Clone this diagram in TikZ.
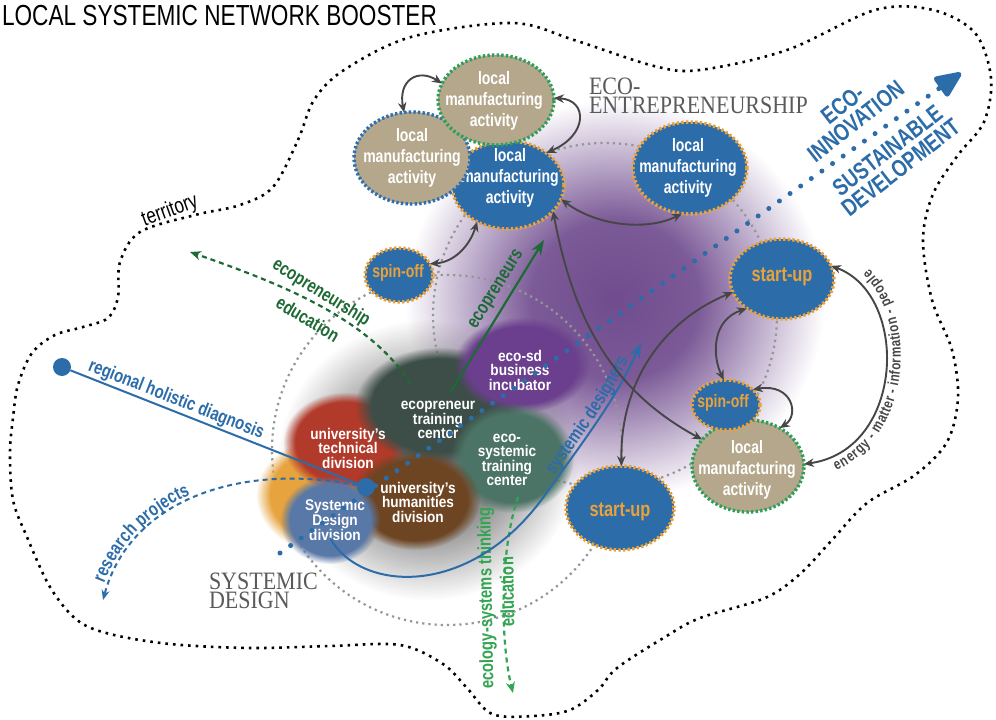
\documentclass[tikz,border=0pt]{standalone}
\usepackage{fontspec}
\usetikzlibrary{arrows.meta,shapes.geometric,fadings,decorations.text}
\newfontfamily\cond[FakeStretch=0.78]{Liberation Sans}
\newfontfamily\cloudf[FakeStretch=0.88]{Liberation Sans}
\newfontfamily\serifx[FakeStretch=0.88]{Liberation Serif}
\definecolor{nodeblue}{RGB}{43,108,169}
\definecolor{tanc}{RGB}{181,167,139}
\definecolor{dotorange}{RGB}{233,162,59}
\definecolor{dotgreen}{RGB}{46,159,91}
\definecolor{dotblue}{RGB}{47,111,176}
\definecolor{arrowgray}{RGB}{70,70,70}
\definecolor{txtblue}{RGB}{43,108,169}
\definecolor{dkgreen}{RGB}{30,106,53}
\definecolor{brgreen}{RGB}{51,164,82}
\definecolor{serifgray}{RGB}{90,90,90}
\definecolor{purplec}{RGB}{112,76,142}
\definecolor{grayc}{RGB}{80,80,80}
\definecolor{redb}{RGB}{178,58,42}
\definecolor{orangeb}{RGB}{231,163,62}
\definecolor{brownb}{RGB}{110,69,34}
\definecolor{sdb}{RGB}{88,120,168}
\definecolor{ecob}{RGB}{60,78,71}
\definecolor{tealb}{RGB}{76,116,102}
\definecolor{incb}{RGB}{107,63,141}
\definecolor{ringgray}{RGB}{150,150,150}
\colorlet{purplemid}{purplec!92!white}
\pgfdeclareradialshading{purplecloud}{\pgfpoint{0bp}{0bp}}{color(0bp)=(purplec); color(10bp)=(purplemid); color(25bp)=(white); color(50bp)=(white)}
\pgfdeclareradialshading{softfadeshade}{\pgfpoint{0bp}{0bp}}{color(0bp)=(pgftransparent!5); color(12bp)=(pgftransparent!35); color(25bp)=(pgftransparent!100); color(50bp)=(pgftransparent!100)}
\pgfdeclarefading{softfade}{\pgfuseshading{softfadeshade}}
\begin{document}
\begin{tikzpicture}[x=1pt,y=-1pt,
  every node/.style={inner sep=0pt, outer sep=0pt},
  dotb/.style={line width=3.4pt, dash pattern=on 2.4pt off 2.2pt},
  bnode/.style={ellipse, dotb},
  mfgtxt/.style={align=center, text=white, font=\cond\bfseries\fontsize{18}{21}\selectfont},
  sotxt/.style={text=dotorange, font=\cond\bfseries\fontsize{18}{18}\selectfont},
  sutxt/.style={text=dotorange, font=\cond\bfseries\fontsize{21}{21}\selectfont},
  cloudtxt/.style={align=center, text=white, font=\cloudf\bfseries\fontsize{15.5}{14.5}\selectfont},
  lbl/.style={font=\cond\bfseries\fontsize{19}{19}\selectfont},
  serifl/.style={anchor=north west, align=left, text=serifgray, font=\serifx\fontsize{25}{18.5}\selectfont},
  garrow/.style={draw=arrowgray, line width=1.9pt, {Stealth[length=10pt,width=8.5pt]}-{Stealth[length=10pt,width=8.5pt]}},
  blob/.style={path fading=circle with fuzzy edge 20 percent},
  ringc/.style={draw=ringgray, line width=2.2pt, dash pattern=on 2.2pt off 4pt},
  territ/.style={draw=black, line width=2.6pt, dash pattern=on 2.6pt off 5pt}
]
\useasboundingbox (0,0) rectangle (996,720);
\fill[white] (0,0) rectangle (996,720);

% big clouds
\shade[shading=purplecloud] (615,300) ellipse (210 and 200);
\fill[grayc, path fading=softfade] (428,460) ellipse (150 and 140);

% dotted gray rings
\draw[ringc] (605,315) circle (172);
\draw[ringc] (447,450) circle (175);

% coloured blobs
\fill[orangeb, blob] (328,495) ellipse (72 and 58);
\fill[redb, blob] (345,442) ellipse (62 and 50);
\fill[ecob, blob] (440,405) ellipse (85 and 58);
\fill[incb, blob] (522,365) ellipse (68 and 48);
\fill[tealb, blob] (512,458) ellipse (62 and 55);
\fill[brownb, blob] (415,500) ellipse (65 and 50);
\fill[sdb, blob] (330,520) ellipse (50 and 44);

% territory
\draw[territ] plot[smooth cycle, tension=0.55] coordinates {(273,187) (298,140) (314,100) (344,70) (411,37) (512,23) (574,40) (654,66) (700,70) (787,50) (875,10) (933,10) (975,33) (991,78) (984,122) (958,155) (933,194) (923,240) (932,300) (952,350) (958,398) (947,442) (915,475) (867,503) (832,540) (800,574) (765,598) (700,618) (665,637) (617,668) (598,690) (570,710) (533,716) (492,714) (467,688) (443,664) (400,645) (330,646) (250,648) (170,644) (110,634) (77,620) (50,587) (27,537) (13,500) (10,453) (13,418) (18,385) (32,353) (55,335) (83,327) (108,318) (118,297) (120,262) (140,232) (195,215) (240,205)};

% title and labels
\node[anchor=north west, font=\cond\fontsize{29}{29}\selectfont] (title) at (2,5) {LOCAL SYSTEMIC NETWORK BOOSTER};
\node[rotate=20, font=\cond\fontsize{22}{22}\selectfont] (terr) at (170,211) {territory};
\node[serifl] (ecoent) at (589,78) {ECO-\\ENTREPRENEURSHIP};
\node[serifl] (sysdes) at (209,573) {SYSTEMIC\\DESIGN};

% cloud texts
\node[cloudtxt] (incub) at (520,370) {eco-sd\\business\\incubator};
\node[cloudtxt] (ectc) at (438,420) {ecopreneur\\training\\center};
\node[cloudtxt] (estc) at (507,460) {eco-\\systemic\\training\\center};
\node[cloudtxt] (utd) at (348,448) {university’s\\technical\\division};
\node[cloudtxt] (uhd) at (418,502) {university’s\\humanities\\division};
\node[cloudtxt] (sdd) at (335,520) {Systemic\\Design\\division};

% blue dotted eco-innovation arrow
\coordinate (sdstart) at (280,553);
\coordinate (ecotip) at (961,73);
\draw[txtblue, line width=5pt, line cap=round, dash pattern=on 0pt off 13pt, -{Triangle[length=30pt 0,width=25pt 0,round]}] (sdstart) -- (ecotip);
\node[rotate=38, align=center, text=txtblue, font=\cond\bfseries\fontsize{24}{21.5}\selectfont] (ecoinno) at (849,113) {ECO-\\INNOVATION};
\node[rotate=38, align=center, text=txtblue, font=\cond\bfseries\fontsize{24}{21.5}\selectfont] (susdev) at (894,159) {SUSTAINABLE\\DEVELOPMENT};

% green arrows
\coordinate (epstart) at (450,393);
\coordinate (eptip) at (544,240);
\draw[dkgreen, line width=2.2pt, -{Stealth[length=15pt,width=11pt]}] (epstart) -- (eptip);
\node[lbl, text=dkgreen, rotate=58] (eplbl) at (497,290) {ecopreneurs};

\coordinate (eestart) at (410,383);
\coordinate (eetip) at (190,252);
\draw[dkgreen, line width=2.2pt, dash pattern=on 5pt off 4pt, -{Stealth[length=11pt,width=9pt]}] (eestart) .. controls (370,320) and (285,285) .. (eetip);
\node[lbl, text=dkgreen, rotate=-32] (eelbl1) at (321,293) {ecopreneurship};
\node[lbl, text=dkgreen, rotate=-31] (eelbl2) at (308,319) {education};

\coordinate (esstart) at (518,497);
\coordinate (estip) at (513,693);
\draw[brgreen, line width=2.2pt, dash pattern=on 5pt off 4pt, -{Stealth[length=11pt,width=9pt]}] (esstart) .. controls (500,550) and (500,640) .. (estip);
\node[lbl, text=brgreen, rotate=91] (eslbl1) at (487,598) {ecology-systems thinking};
\node[lbl, text=brgreen, rotate=91] (eslbl2) at (507,592) {education};

% blue arrows
\node[circle, fill=txtblue, minimum size=18pt] (diag) at (62,367) {};
\node[circle, fill=txtblue, minimum size=18pt] (hub) at (366,487) {};
\draw[txtblue, line width=2pt] (diag) -- (hub);
\node[lbl, text=txtblue, rotate=-21.5] (rhd) at (176,400) {regional holistic diagnosis};

\coordinate (rptip) at (103,600);
\draw[txtblue, line width=2pt, dash pattern=on 5pt off 4pt, -{Stealth[length=10pt,width=8pt]}] (hub) .. controls (240,462) and (130,500) .. (rptip);
\path[decorate, decoration={text along path, text={|\cond\bfseries\fontsize{19}{19}\selectfont|research projects}, text color=txtblue, text align={left, left indent=16pt}, raise=4pt}] (103,600) .. controls (130,500) and (240,462) .. (363,487);

\coordinate (sdbase) at (330,538);
\coordinate (sdtip) at (641,343);
\draw[txtblue, line width=2pt, -{Stealth[length=15pt,width=11pt]}] (sdbase) .. controls (360,592) and (470,600) .. (545,495) .. controls (590,432) and (615,400) .. (sdtip);
\path[decorate, decoration={text along path, text={|\cond\bfseries\fontsize{19}{19}\selectfont|systemic designers}, text color=txtblue, text align=center, raise=4pt}] (545,495) .. controls (590,432) and (615,400) .. (641,343);

% network nodes
\node[bnode, fill=nodeblue, draw=dotorange, minimum width=112pt, minimum height=88pt] (lma3) at (508,185) {};
\node[mfgtxt] (lma3t) at (510,178) {local\\manufacturing\\activity};
\node[bnode, fill=tanc, draw=dotblue, minimum width=116pt, minimum height=92pt] (lma2) at (412,158) {};
\node[mfgtxt] (lma2t) at (412,158) {local\\manufacturing\\activity};
\node[bnode, fill=tanc, draw=dotgreen, minimum width=116pt, minimum height=90pt] (lma1) at (496,100) {};
\node[mfgtxt] (lma1t) at (494,101) {local\\manufacturing\\activity};
\node[bnode, fill=nodeblue, draw=dotorange, minimum width=114pt, minimum height=92pt] (lma4) at (690,168) {};
\node[mfgtxt] (lma4t) at (688,168) {local\\manufacturing\\activity};
\node[bnode, fill=nodeblue, draw=dotorange, minimum width=68pt, minimum height=54pt] (so1) at (399,275) {};
\node[sotxt] (so1t) at (398,273) {spin-off};
\node[bnode, fill=nodeblue, draw=dotorange, minimum width=104pt, minimum height=80pt] (su1) at (782,279) {};
\node[sutxt] (su1t) at (782,277) {start-up};
\node[bnode, fill=nodeblue, draw=dotorange, minimum width=108pt, minimum height=84pt] (su2) at (620,508) {};
\node[sutxt] (su2t) at (620,512) {start-up};
\node[bnode, fill=tanc, draw=dotgreen, minimum width=112pt, minimum height=92pt] (lma5) at (748,466) {};
\node[mfgtxt] (lma5t) at (747,470) {local\\manufacturing\\activity};
\node[bnode, fill=nodeblue, draw=dotorange, minimum width=68pt, minimum height=50pt] (so2) at (726,405) {};
\node[sotxt] (so2t) at (723,403) {spin-off};

% gray connectors
\draw[garrow] (lma2.100) .. controls (398,80) and (418,68) .. (lma1.163);
\draw[garrow] (lma1.2) .. controls (588,100) and (588,135) .. (lma3.40);
\draw[garrow] (lma3.-15) .. controls (600,228) and (650,230) .. (lma4.-100);
\draw[garrow] (lma3.-130) .. controls (470,245) and (455,262) .. (so1.20);
\draw[garrow] (lma3.-30) .. controls (575,330) and (620,395) .. (lma5.150);
\draw[garrow] (su1.-140) .. controls (712,320) and (712,355) .. (so2.95);
\draw[garrow] (su1.-165) .. controls (665,320) and (620,380) .. (su2.88);
\draw[garrow] (so2.30) .. controls (792,383) and (800,415) .. (lma5.50);
\draw[garrow] (su1.15) .. controls (910,295) and (905,450) .. (lma5.2);
\path[decorate, decoration={text along path, text={|\cond\bfseries\fontsize{15}{15}\selectfont|energy - matter - information - people}, text color=arrowgray, text align=center, raise=-14pt}] (806,465) .. controls (905,450) and (910,295) .. (838,265);
\end{tikzpicture}
\end{document}
